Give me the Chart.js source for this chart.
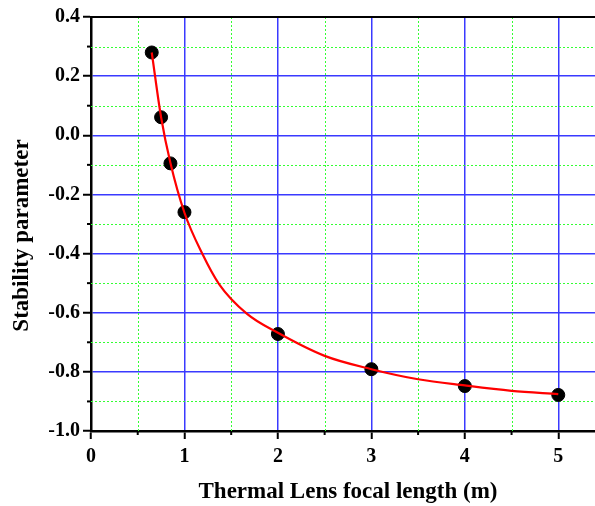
<!DOCTYPE html>
<html>
<head>
<meta charset="utf-8">
<script src="https://cdn.jsdelivr.net/npm/chart.js@4/dist/chart.umd.min.js"></script>
<style>
  html, body { margin: 0; padding: 0; overflow: hidden; background: #fff; }
  canvas { position: absolute; left: 0; top: 0; }
</style>
</head>
<body>
<canvas id="c" width="605" height="506"></canvas>
<script>
// Measured stability parameter vs thermal lens focal length
const focalLength = [0.65, 0.75, 0.85, 1, 2, 3, 4, 5];
const stability   = [0.28, 0.061, -0.095, -0.26, -0.672, -0.791, -0.848, -0.878];

// Fitted curve through the measurements
const fitX = [0.65, 0.75, 0.85, 1.0, 1.19, 1.37, 1.67, 2, 2.5, 3, 3.5, 4, 4.5, 5];
const fitY = [0.28, 0.061, -0.094, -0.262, -0.40, -0.503, -0.604, -0.668, -0.746, -0.791, -0.825, -0.846, -0.864, -0.875];

// Axis ranges and tick steps
const xRange = [0, 5.5];
const yRange = [-1.0, 0.4];
const xMajor = 1, xMinor = 0.5;
const yMajor = 0.2, yMinor = 0.1;

const xTitle = 'Thermal Lens focal length (m)';
const yTitle = 'Stability parameter';

const FONT = '"Liberation Serif", "Times New Roman", serif';
const MAJOR = '#3a3aff';
const MINOR = '#33ff33';

// Dotted minor grid, minor tick marks and the top frame line
const minorGrid = {
  id: 'minorGrid',
  beforeDatasetsDraw(chart) {
    const { ctx, chartArea: a, scales: { x, y } } = chart;
    ctx.save();
    ctx.lineWidth = 1;
    ctx.strokeStyle = MINOR;
    ctx.setLineDash([2, 2]);
    for (let v = xRange[0] + xMinor; v < xRange[1]; v += xMajor) {
      const px = Math.round(x.getPixelForValue(v)) + 0.5;
      ctx.beginPath(); ctx.moveTo(px, a.top); ctx.lineTo(px, a.bottom); ctx.stroke();
    }
    for (let v = yRange[0] + yMinor; v < yRange[1]; v += yMajor) {
      const py = Math.round(y.getPixelForValue(v)) + 0.5;
      ctx.beginPath(); ctx.moveTo(a.left, py); ctx.lineTo(a.right, py); ctx.stroke();
    }
    ctx.setLineDash([]);
    ctx.strokeStyle = '#000';
    ctx.lineWidth = 2;
    for (let v = xRange[0] + xMinor; v < xRange[1]; v += xMajor) {
      const px = x.getPixelForValue(v);
      ctx.beginPath(); ctx.moveTo(px, a.bottom); ctx.lineTo(px, a.bottom + 4); ctx.stroke();
    }
    for (let v = yRange[0] + yMinor; v < yRange[1]; v += yMajor) {
      const py = y.getPixelForValue(v);
      ctx.beginPath(); ctx.moveTo(a.left, py); ctx.lineTo(a.left - 4, py); ctx.stroke();
    }
    ctx.restore();
  },
  afterDraw(chart) {
    const { ctx, chartArea: a } = chart;
    ctx.save();
    ctx.strokeStyle = '#000';
    ctx.lineWidth = 2;
    ctx.beginPath(); ctx.moveTo(a.left, a.top); ctx.lineTo(a.right, a.top); ctx.stroke();
    ctx.restore();
  }
};

new Chart(document.getElementById('c'), {
  type: 'scatter',
  data: {
    datasets: [
      {
        label: 'Fit',
        data: fitX.map((v, i) => ({ x: v, y: fitY[i] })),
        showLine: true,
        borderColor: '#ff0000',
        borderWidth: 2.2,
        pointRadius: 0,
        cubicInterpolationMode: 'monotone',
        order: 0
      },
      {
        label: 'Measured',
        data: focalLength.map((v, i) => ({ x: v, y: stability[i] })),
        backgroundColor: '#000',
        borderColor: '#000',
        pointRadius: 6.5,
        pointHoverRadius: 6.5,
        order: 1
      }
    ]
  },
  options: {
    responsive: false,
    animation: false,
    layout: { autoPadding: false, padding: { left: 0, right: 0, top: 17, bottom: 0 } },
    plugins: { legend: { display: false }, tooltip: { enabled: false } },
    scales: {
      x: {
        type: 'linear',
        min: xRange[0], max: xRange[1],
        afterFit(s) { s.height = 75; s.paddingLeft = 0; s.paddingRight = 0; },
        ticks: {
          stepSize: xMajor,
          includeBounds: false,
          autoSkip: false,
          color: '#000',
          padding: 6,
          maxRotation: 0,
          font: { family: FONT, size: 20, weight: 'bold' },
          callback: v => String(v)
        },
        grid: {
          color: MAJOR,
          lineWidth: 1.5,
          tickColor: '#000',
          tickLength: 8,
          tickWidth: 2
        },
        border: { color: '#000', width: 2.5 },
        title: {
          display: true,
          text: xTitle,
          color: '#000',
          padding: { top: 0, bottom: 0 },
          font: { family: FONT, size: 23, weight: 'bold' }
        }
      },
      y: {
        type: 'linear',
        min: yRange[0], max: yRange[1],
        afterFit(s) { s.width = 91; },
        ticks: {
          stepSize: yMajor,
          autoSkip: false,
          color: '#000',
          padding: 3,
          font: { family: FONT, size: 20, weight: 'bold' },
          callback: v => (Math.abs(v) < 1e-9 ? '0.0' : v.toFixed(1))
        },
        grid: {
          color: MAJOR,
          lineWidth: 1.5,
          tickColor: '#000',
          tickLength: 8,
          tickWidth: 2
        },
        border: { color: '#000', width: 2.5 },
        title: {
          display: true,
          text: yTitle + '\u00A0\u00A0\u00A0\u00A0',
          color: '#000',
          padding: { top: 8, bottom: 0 },
          font: { family: FONT, size: 23, weight: 'bold' }
        }
      }
    }
  },
  plugins: [minorGrid]
});
</script>
</body>
</html>
